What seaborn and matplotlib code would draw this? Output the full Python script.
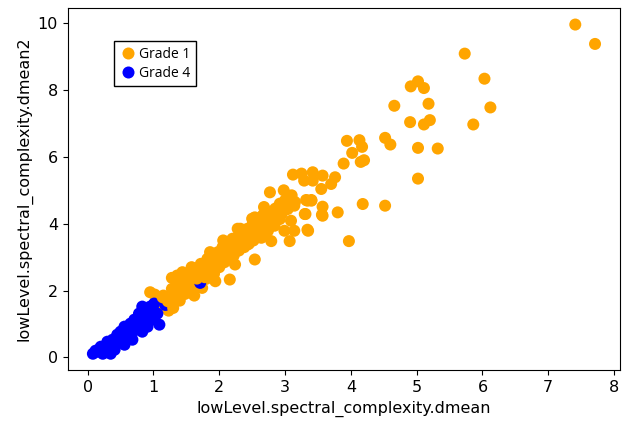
import pandas as pd
import seaborn as sns
import matplotlib.pyplot as plt

# Grade 1 points (dmean, dmean2)
g1_x = [1.05, 1.10, 1.15, 1.20, 1.23, 1.26, 1.28, 1.30, 1.35, 1.38, 1.40, 1.42, 1.45, 1.48, 1.50,
        1.52, 1.55, 1.58, 1.60, 1.62, 1.65, 1.68, 1.70, 1.72, 1.75, 1.78, 1.80, 1.82, 1.85, 1.88,
        1.90, 1.92, 1.95, 1.98, 2.00, 2.02, 2.05, 2.08, 2.10, 2.12, 2.15, 2.18, 2.20, 2.22, 2.25,
        2.28, 2.30, 2.33, 2.35, 2.38, 2.40, 2.43, 2.45, 2.48, 2.50, 2.52, 2.55, 2.58, 2.60, 2.63,
        2.66, 2.70, 2.72, 2.75, 2.78, 2.80, 2.85, 2.88, 2.92, 2.95, 3.00, 3.05, 3.10, 3.15,
        2.16, 1.94, 2.24, 2.54, 1.74, 2.43, 2.64, 2.79, 3.07, 2.54, 2.39, 2.74, 2.64, 2.54, 2.84,
        2.99, 3.14, 3.34, 2.92, 3.09, 2.89, 3.04, 3.14, 3.30, 3.57, 3.57, 3.80, 3.09, 3.32, 3.40,
        2.77, 3.12, 3.25, 3.42, 3.57, 3.76, 3.70, 3.55, 3.42, 3.29, 3.89, 4.15, 4.20, 4.02, 3.94,
        4.13, 4.17, 4.52, 4.60, 5.02, 5.32, 5.02, 4.18, 4.52, 3.97, 3.35, 3.31, 3.34, 3.40, 3.56,
        4.66, 4.91, 5.02, 5.11, 5.18, 4.90, 5.11, 5.20, 5.73, 6.03, 6.12, 5.86, 7.41, 7.71,
        0.95, 1.02, 1.28, 1.36, 1.58, 1.62, 2.06, 2.32, 2.50, 2.68, 2.98, 1.44, 1.86, 2.28]
g1_y = [1.75, 1.55, 1.85, 1.65, 1.40, 1.50, 2.05, 1.80, 1.95, 2.20, 1.70, 2.35, 2.05, 1.90, 2.25,
        2.50, 2.15, 2.40, 2.00, 2.65, 2.30, 2.55, 2.20, 2.80, 2.45, 2.65, 2.35, 2.95, 2.60, 2.80,
        3.05, 2.50, 2.90, 3.15, 2.70, 3.00, 3.30, 2.85, 3.10, 3.40, 2.95, 3.25, 3.55, 3.05, 3.35,
        3.60, 3.20, 3.45, 3.75, 3.30, 3.55, 3.85, 3.40, 3.65, 3.95, 3.50, 3.75, 4.05, 3.60, 3.90,
        4.25, 3.70, 4.05, 4.35, 4.00, 4.20, 4.45, 4.15, 4.60, 4.30, 4.70, 4.50, 4.85, 4.65,
        2.33, 2.28, 2.78, 2.93, 2.08, 3.38, 3.58, 3.48, 3.48, 3.58, 3.79, 3.79, 3.99, 4.19, 3.94,
        3.79, 3.79, 3.82, 4.14, 4.09, 4.49, 4.44, 4.54, 4.29, 4.51, 4.24, 4.34, 4.74, 4.71, 4.71,
        4.94, 5.47, 5.50, 5.54, 5.44, 5.39, 5.19, 5.04, 5.29, 5.29, 5.80, 5.85, 5.90, 6.12, 6.48,
        6.50, 6.30, 6.57, 6.37, 6.27, 6.25, 5.35, 4.59, 4.54, 3.48, 3.79, 4.29, 4.69, 4.69, 4.27,
        7.53, 8.11, 8.26, 8.06, 7.59, 7.04, 6.97, 7.10, 9.09, 8.34, 7.48, 6.97, 9.96, 9.38,
        1.95, 1.88, 2.38, 2.45, 2.70, 1.85, 3.50, 3.85, 4.15, 4.50, 5.00, 2.55, 3.15, 3.85]

# Grade 4 points
g4_x = [0.14, 0.23, 0.30, 0.41, 0.38, 0.50, 0.50, 0.60, 0.65, 0.75, 0.78, 0.86, 0.83, 0.95, 0.98,
        1.06, 1.09, 0.91, 0.68, 0.56, 0.20, 0.45, 0.56, 0.71, 0.92, 1.01, 0.30, 0.08, 0.35, 0.83,
        0.18, 0.26, 0.44, 0.62, 0.72, 0.88, 1.00, 0.52, 0.40, 0.66, 0.12, 1.18, 1.71]
g4_y = [0.17, 0.11, 0.32, 0.23, 0.53, 0.47, 0.77, 0.62, 1.01, 0.83, 1.31, 1.07, 1.52, 1.52, 1.13,
        1.31, 0.98, 0.92, 0.53, 0.38, 0.32, 0.68, 0.92, 1.13, 1.31, 1.61, 0.47, 0.11, 0.11, 0.77,
        0.25, 0.22, 0.45, 0.80, 0.98, 1.25, 1.40, 0.62, 0.38, 0.70, 0.20, 1.57, 2.23]

# Grade 1 points drawn over the blue ones
g1_late_x = [1.66, 1.78, 1.22, 1.30, 1.14]
g1_late_y = [2.36, 2.40, 1.68, 1.48, 1.80]

df = pd.concat([
    pd.DataFrame({"dmean": g1_x, "dmean2": g1_y, "grade": "Grade 1"}),
    pd.DataFrame({"dmean": g4_x, "dmean2": g4_y, "grade": "Grade 4"}),
    pd.DataFrame({"dmean": g1_late_x, "dmean2": g1_late_y, "grade": "Grade 1"}),
], ignore_index=True)

fig = plt.figure(figsize=(6.22, 4.26), dpi=100)
ax = fig.add_axes([0.109, 0.131, 0.888, 0.85])
sns.scatterplot(data=df, x="dmean", y="dmean2", hue="grade",
                palette={"Grade 1": "orange", "Grade 4": "blue"},
                s=75, linewidth=0, alpha=1, ax=ax)

ax.set_xticks(range(0, 9))
ax.set_yticks(range(0, 11, 2))
ax.tick_params(labelsize=11.5)
ax.set_xlabel("lowLevel.spectral_complexity.dmean", fontsize=11.5)
ax.set_ylabel("lowLevel.spectral_complexity.dmean2", fontsize=11.5)

handles, labels = ax.get_legend_handles_labels()
leg = ax.legend(handles, labels, loc="upper left", bbox_to_anchor=(0.083, 0.909),
                borderaxespad=0, fancybox=False, edgecolor="black", framealpha=1,
                prop={"family": "Open Sans", "size": 10}, handletextpad=0.2,
                handlelength=1.2, labelspacing=0.3)
leg.get_frame().set_linewidth(1.0)

fig.savefig("out.png", dpi=100)
